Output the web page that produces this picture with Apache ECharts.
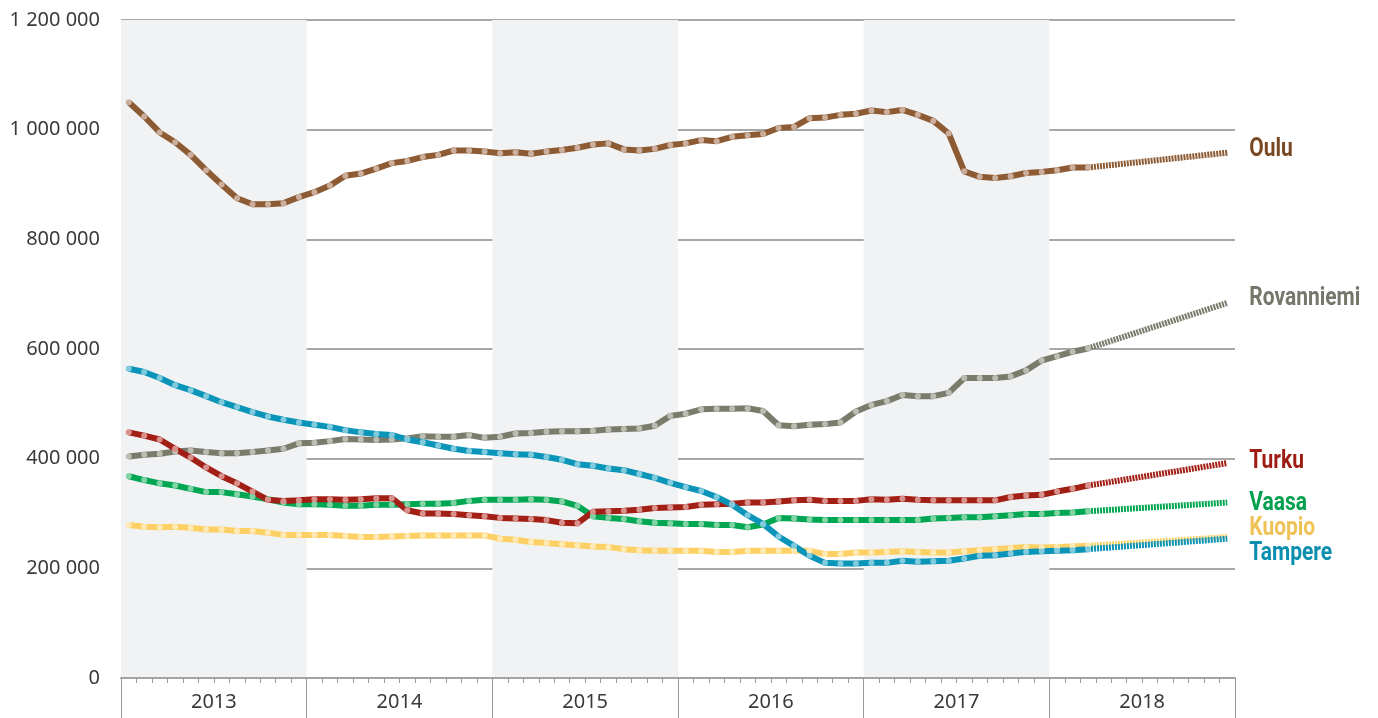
<!DOCTYPE html>
<html>
<head>
<meta charset="utf-8">
<script src="https://cdn.jsdelivr.net/npm/echarts@6/dist/echarts.min.js"></script>
<style>
  html, body { margin: 0; padding: 0; background: #ffffff; }
  #chart { width: 1378px; height: 718px; }
</style>
</head>
<body>
<div id="chart"></div>
<script>
  // years on the axis, one category per month below
  const years = ['2013', '2014', '2015', '2016', '2017', '2018']
  const months = []
  years.forEach(y => {
    for (let m = 1; m <= 12; m++) months.push(y + '-' + (m < 10 ? '0' + m : m))
  })
  const yTicks = [0, 200000, 400000, 600000, 800000, 1000000, 1200000]

  // monthly values Jan 2013 .. Mar 2018
  const oulu = [1050000, 1024000, 995000, 977000, 954000, 926000, 900000, 875000, 864000, 864000,
    866000, 877000, 886000, 898000, 916000, 920000, 929000, 939000, 943000, 950000,
    954000, 962000, 962000, 960000, 957000, 959000, 956000, 960000, 963000, 967000,
    973000, 975000, 964000, 962000, 965000, 972000, 975000, 981000, 979000, 987000,
    990000, 992000, 1003000, 1005000, 1021000, 1022000, 1027000, 1029000, 1035000, 1032000,
    1036000, 1027000, 1016000, 993000, 924000, 914000, 912000, 915000, 921000, 923000,
    926000, 931000, 931000]
  const rovanniemi = [404000, 407000, 409000, 413000, 415000, 412000, 410000, 410000, 412000, 415000,
    418000, 428000, 429000, 432000, 436000, 435000, 434000, 435000, 437000, 441000,
    440000, 440000, 443000, 438000, 440000, 446000, 447000, 449000, 450000, 450000,
    451000, 453000, 454000, 455000, 460000, 478000, 482000, 490000, 491000, 491000,
    492000, 487000, 461000, 459000, 462000, 463000, 466000, 486000, 498000, 505000,
    516000, 514000, 514000, 520000, 547000, 547000, 547000, 550000, 561000, 579000,
    587000, 595000, 601000]
  const turku = [448000, 442000, 435000, 418000, 402000, 384000, 368000, 355000, 340000, 325000,
    323000, 324000, 326000, 326000, 325000, 326000, 328000, 328000, 306000, 300000,
    300000, 299000, 297000, 295000, 292000, 291000, 290000, 288000, 283000, 282000,
    303000, 304000, 305000, 307000, 310000, 311000, 312000, 316000, 317000, 318000,
    320000, 320000, 322000, 324000, 325000, 323000, 323000, 323000, 326000, 325000,
    327000, 325000, 324000, 324000, 324000, 324000, 324000, 330000, 333000, 334000,
    340000, 345000, 351000]
  const vaasa = [368000, 361000, 355000, 351000, 345000, 339000, 339000, 335000, 331000, 326000,
    320000, 317000, 317000, 316000, 314000, 314000, 316000, 316000, 317000, 318000,
    318000, 319000, 323000, 325000, 325000, 325000, 326000, 325000, 322000, 314000,
    295000, 292000, 290000, 286000, 283000, 282000, 281000, 281000, 279000, 279000,
    275000, 280000, 292000, 291000, 289000, 288000, 288000, 288000, 288000, 288000,
    288000, 288000, 291000, 292000, 293000, 293000, 295000, 297000, 299000, 299000,
    301000, 302000, 304000]
  const kuopio = [279000, 276000, 275000, 276000, 274000, 271000, 271000, 268000, 268000, 265000,
    261000, 261000, 261000, 261000, 259000, 257000, 257000, 258000, 259000, 260000,
    260000, 260000, 260000, 260000, 254000, 252000, 248000, 246000, 244000, 242000,
    240000, 239000, 235000, 233000, 232000, 232000, 232000, 232000, 230000, 230000,
    232000, 232000, 232000, 232000, 232000, 226000, 226000, 229000, 229000, 230000,
    231000, 230000, 229000, 229000, 231000, 233000, 235000, 237000, 239000, 238000,
    239000, 240000, 241000]
  const tampere = [564000, 558000, 547000, 534000, 525000, 514000, 503000, 494000, 485000, 477000,
    471000, 466000, 462000, 458000, 452000, 448000, 445000, 443000, 435000, 430000,
    424000, 418000, 414000, 412000, 410000, 408000, 407000, 403000, 398000, 390000,
    387000, 382000, 379000, 372000, 365000, 356000, 348000, 341000, 330000, 316000,
    297000, 281000, 258000, 241000, 223000, 210000, 209000, 209000, 210000, 210000,
    214000, 212000, 213000, 214000, 218000, 223000, 224000, 227000, 230000, 231000,
    232000, 233000, 235000]

  // forecast values for Dec 2018
  const ouluEnd = 958000
  const rovanniemiEnd = 684000
  const turkuEnd = 392000
  const vaasaEnd = 320000
  const kuopioEnd = 257000
  const tampereEnd = 254000

  // drawing order: last one on top
  const cities = [
    { name: 'Kuopio', data: kuopio, end: kuopioEnd, color: '#fdd065', dot: '#ffe9b4', label: '#f0c257', dy: -8 },
    { name: 'Vaasa', data: vaasa, end: vaasaEnd, color: '#00a651', dot: '#7fd3a4', label: '#00a14e', dy: 1 },
    { name: 'Rovanniemi', data: rovanniemi, end: rovanniemiEnd, color: '#7b7b6c', dot: '#bcbcb2', label: '#76766a', dy: -4 },
    { name: 'Turku', data: turku, end: turkuEnd, color: '#a21f16', dot: '#d8918b', label: '#9e1c14', dy: -1 },
    { name: 'Oulu', data: oulu, end: ouluEnd, color: '#8d5b33', dot: '#cbae9b', label: '#7a4924', dy: -3 },
    { name: 'Tampere', data: tampere, end: tampereEnd, color: '#0a94b8', dot: '#80cadd', label: '#0a8fb0', dy: 15 }
  ]

  const labelFont = 'Roboto, sans-serif'
  const axisFont = '"Noto Sans", sans-serif'

  let series = []
  cities.forEach(c => {
    series.push({
      name: c.name,
      type: 'line',
      xAxisIndex: 0,
      data: c.data,
      symbol: 'circle',
      symbolSize: 6,
      showSymbol: true,
      itemStyle: { color: c.dot, borderWidth: 0 },
      lineStyle: { color: c.color, width: 6, join: 'round' },
      emphasis: { disabled: true },
      silent: true
    })
    // dotted forecast from the last value to Dec 2018
    let f = months.map(() => null)
    f[c.data.length - 1] = c.data[c.data.length - 1]
    f[months.length - 1] = c.end
    series.push({
      name: c.name + ' ennuste',
      type: 'line',
      xAxisIndex: 0,
      data: f,
      connectNulls: true,
      showSymbol: false,
      symbol: 'none',
      lineStyle: { color: c.color, width: 6, type: [2, 1] },
      emphasis: { disabled: true },
      silent: true
    })
  })

  const chart = echarts.init(document.getElementById('chart'))
  chart.setOption({
    animation: false,
    backgroundColor: '#ffffff',
    grid: { left: 121, right: 143, top: 20, bottom: 40, containLabel: false },
    xAxis: [
      {
        type: 'category',
        data: months,
        position: 'bottom',
        boundaryGap: true,
        axisLine: { show: true, lineStyle: { color: '#a3a3a3', width: 2 } },
        axisTick: { show: true, interval: 0, length: 5, lineStyle: { color: '#9a9a9a', width: 1 } },
        axisLabel: { show: false },
        splitLine: { show: false }
      },
      {
        type: 'category',
        data: years,
        position: 'bottom',
        offset: 0,
        boundaryGap: true,
        axisLine: { show: false },
        axisTick: { show: true, interval: 0, length: 40, lineStyle: { color: '#9a9a9a', width: 1 } },
        axisLabel: { show: true, interval: 0, color: '#3a3a3a', fontFamily: axisFont, fontSize: 20, margin: 14 },
        splitLine: { show: false },
        splitArea: { show: true, interval: 0, areaStyle: { color: ['#f1f2f4', 'rgba(255,255,255,0)'] } }
      }
    ],
    yAxis: {
      type: 'value',
      min: yTicks[0],
      max: yTicks[yTicks.length - 1],
      interval: yTicks[1] - yTicks[0],
      axisLine: { show: false },
      axisTick: { show: false },
      axisLabel: {
        color: '#3a3a3a',
        fontFamily: axisFont,
        fontSize: 20,
        margin: 21,
        formatter: v => String(v).replace(/\B(?=(\d{3})+(?!\d))/g, ' ')
      },
      splitLine: { show: true, lineStyle: { color: '#a8a8a8', width: 2 } }
    },
    series: series
  })

  // city names next to the forecast ends, narrowed to look condensed
  const labels = cities.map(c => {
    const p = chart.convertToPixel({ xAxisIndex: 0, yAxisIndex: 0 }, [months.length - 1, c.end])
    return {
      type: 'text',
      x: p[0] + 22,
      y: p[1] + c.dy,
      scaleX: 0.84,
      silent: true,
      style: {
        text: c.name,
        fill: c.label,
        font: 'bold 25px ' + labelFont,
        verticalAlign: 'middle',
        align: 'left'
      }
    }
  })
  chart.setOption({ graphic: labels })
</script>
</body>
</html>
